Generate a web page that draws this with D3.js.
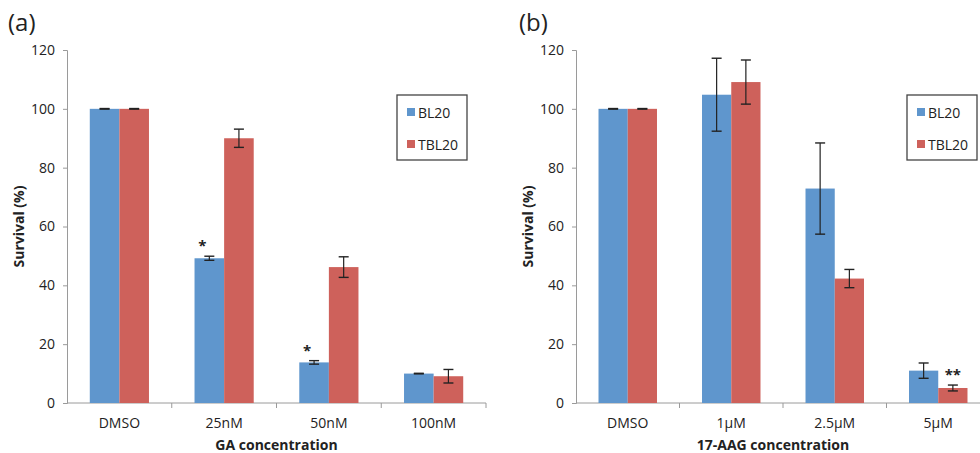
<!DOCTYPE html>
<html>
<head>
<meta charset="utf-8">
<script src="https://cdn.jsdelivr.net/npm/d3@7"></script>
<style>
  body { margin: 0; background: #fff; }
  text { font-family: "Open Sans", "Noto Sans", sans-serif; fill: #222; }
</style>
</head>
<body>
<svg id="chart" width="980" height="453"></svg>
<script>
// data
let series = ["BL20", "TBL20"];
let colors = ["#5f96cd", "#ce615b"];
let yTicks = [0, 20, 40, 60, 80, 100, 120];

let gaCats = ["DMSO", "25nM", "50nM", "100nM"];
let gaBL20 = [100, 49.2, 13.8, 10.0];
let gaTBL20 = [100, 90.0, 46.2, 9.1];
let gaBL20Err = [0.1, 0.7, 0.6, 0.1];
let gaTBL20Err = [0.1, 3.1, 3.5, 2.3];
let gaStars = [null, ["BL20", "*"], ["BL20", "*"], null];

let aagCats = ["DMSO", "1\u00b5M", "2.5\u00b5M", "5\u00b5M"];
let aagBL20 = [100, 104.8, 72.9, 11.0];
let aagTBL20 = [100, 109.1, 42.3, 5.1];
let aagBL20Err = [0.1, 12.4, 15.5, 2.6];
let aagTBL20Err = [0.1, 7.5, 3.1, 1.0];
let aagStars = [null, null, null, ["TBL20", "**"]];

let svg = d3.select("#chart");

function drawPanel(opt) {
  let g = svg.append("g");
  let x = d3.scaleBand().domain(opt.cats).range([opt.x0, opt.x1]).paddingInner(0.435).paddingOuter(0.2175);
  let xs = d3.scaleBand().domain(series).range([0, x.bandwidth()]);
  let y = d3.scaleLinear().domain([0, 120]).range([403, 50]);

  // y axis
  let yAxis = g.append("g").attr("transform", `translate(${opt.x0},0)`)
    .call(d3.axisLeft(y).tickValues(yTicks).tickSize(4).tickPadding(8));
  yAxis.select(".domain").attr("stroke", "#9a9a9a");
  yAxis.selectAll(".tick line").attr("stroke", "#9a9a9a");
  yAxis.selectAll(".tick text").style("font-size", "14px").attr("fill", "#222");

  // x axis: line + tick marks at category boundaries
  g.append("line").attr("x1", opt.x0).attr("x2", opt.x1).attr("y1", y(0)).attr("y2", y(0))
    .attr("stroke", "#9a9a9a");
  d3.range(1, opt.cats.length + 1).forEach(i => {
    let tx = opt.x0 + i * (opt.x1 - opt.x0) / opt.cats.length;
    g.append("line").attr("x1", tx).attr("x2", tx).attr("y1", y(0)).attr("y2", y(0) + 5)
      .attr("stroke", "#9a9a9a");
  });
  g.selectAll(".xlab").data(opt.cats).enter().append("text")
    .attr("x", d => x(d) + x.bandwidth() / 2).attr("y", 428)
    .attr("text-anchor", "middle").style("font-size", "14px").text(d => d);

  let rows = opt.cats.map((c, i) => ({
    cat: c,
    vals: [
      { s: "BL20", v: opt.bl[i], e: opt.blErr[i] },
      { s: "TBL20", v: opt.tbl[i], e: opt.tblErr[i] }
    ],
    star: opt.stars[i]
  }));

  let grp = g.selectAll(".grp").data(rows).enter().append("g")
    .attr("transform", d => `translate(${x(d.cat)},0)`);
  grp.selectAll("rect").data(d => d.vals).enter().append("rect")
    .attr("x", d => xs(d.s)).attr("width", xs.bandwidth())
    .attr("y", d => y(d.v)).attr("height", d => y(0) - y(d.v))
    .attr("fill", d => colors[series.indexOf(d.s)]);

  // error bars
  let eb = grp.selectAll(".err").data(d => d.vals).enter().append("g");
  eb.append("line")
    .attr("x1", d => xs(d.s) + xs.bandwidth() / 2).attr("x2", d => xs(d.s) + xs.bandwidth() / 2)
    .attr("y1", d => y(d.v + d.e)).attr("y2", d => y(d.v - d.e))
    .attr("stroke", "#222").attr("stroke-width", 1.2);
  ["+", "-"].forEach(sgn => {
    eb.append("line")
      .attr("x1", d => xs(d.s) + xs.bandwidth() / 2 - 5).attr("x2", d => xs(d.s) + xs.bandwidth() / 2 + 5)
      .attr("y1", d => y(sgn === "+" ? d.v + d.e : d.v - d.e))
      .attr("y2", d => y(sgn === "+" ? d.v + d.e : d.v - d.e))
      .attr("stroke", "#222").attr("stroke-width", 1.4);
  });

  // significance stars
  grp.filter(d => d.star).append("text")
    .attr("x", d => xs(d.star[0]) + xs.bandwidth() / 2 + (d.star[0] === "BL20" ? -7 : 0))
    .attr("y", d => {
      let v = d.vals.find(o => o.s === d.star[0]);
      return y(v.v + v.e) - 5;
    })
    .attr("text-anchor", "middle").style("font-size", "15px").style("font-weight", "bold")
    .text(d => d.star[1]);

  // axis titles
  g.append("text").attr("x", (opt.x0 + opt.x1) / 2 + opt.titleShift).attr("y", 450)
    .attr("text-anchor", "middle").style("font-size", "14px").style("font-weight", "bold")
    .text(opt.xTitle);
  g.append("text").attr("transform", `translate(${opt.x0 - 43},${y(60)}) rotate(-90)`)
    .attr("text-anchor", "middle").style("font-size", "14px").style("font-weight", "bold")
    .text("Survival (%)");

  // panel letter
  g.append("text").attr("x", opt.labelX).attr("y", 31).style("font-size", "24px").text(opt.label);

  // legend
  let lg = g.append("g").attr("transform", `translate(${opt.legX},95)`);
  lg.append("rect").attr("width", 70).attr("height", 65).attr("fill", "#fff")
    .attr("stroke", "#444").attr("stroke-width", 1.3);
  series.forEach((s, i) => {
    lg.append("rect").attr("x", 10).attr("y", 13 + i * 32).attr("width", 8).attr("height", 8)
      .attr("fill", colors[i]);
    lg.append("text").attr("x", 21).attr("y", 23 + i * 32).style("font-size", "14px").text(s);
  });
}

drawPanel({
  cats: gaCats, bl: gaBL20, tbl: gaTBL20, blErr: gaBL20Err, tblErr: gaTBL20Err, stars: gaStars,
  x0: 67, x1: 486, xTitle: "GA concentration", titleShift: 0, label: "(a)", labelX: 8, legX: 397
});
drawPanel({
  cats: aagCats, bl: aagBL20, tbl: aagTBL20, blErr: aagBL20Err, tblErr: aagTBL20Err, stars: aagStars,
  x0: 576, x1: 990, xTitle: "17-AAG concentration", titleShift: -10, label: "(b)", labelX: 519, legX: 907
});
</script>
</body>
</html>
